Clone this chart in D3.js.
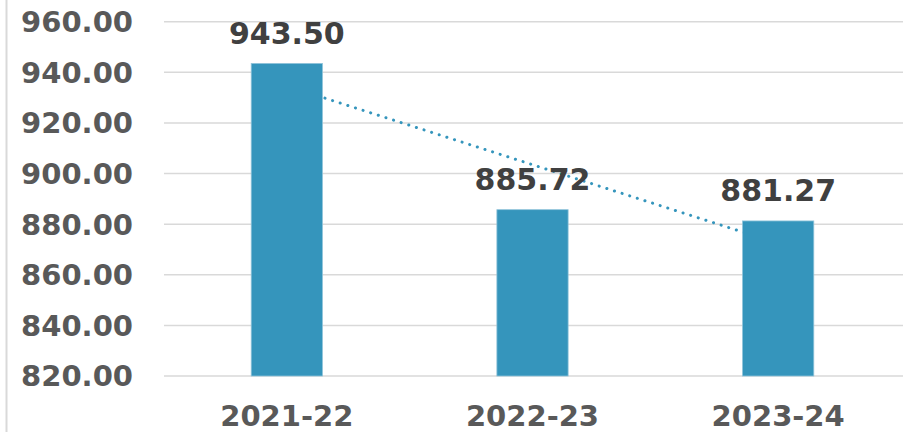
<!DOCTYPE html>
<head>
	<meta charset="utf-8">
	<title>Chart</title>
	<script src="https://d3js.org/d3.v7.min.js"></script>
	<style>
		body { margin: 0; background: #fff; }
		.grid line { stroke: #d9d9d9; stroke-width: 1.5px; }
		.tick-label { font-family: "DejaVu Sans", Verdana, sans-serif; font-weight: bold; font-size: 29px; fill: #595959; }
		.value-label { font-family: "DejaVu Sans", Verdana, sans-serif; font-weight: bold; font-size: 30px; fill: #404040; }
	</style>
</head>
<body>
	<div id="chart"></div>
	<script>
		var years = ["2021-22", "2022-23", "2023-24"];
		var values = [943.50, 885.72, 881.27];
		var yTicks = [820, 840, 860, 880, 900, 920, 940, 960];

		var width = 903, height = 432;
		var plotLeft = 164, plotRight = 901, plotTop = 21.7, plotBottom = 376;

		var svg = d3.select("#chart").append("svg")
			.attr("width", width)
			.attr("height", height);

		// left frame line
		svg.append("line")
			.attr("x1", 6.5).attr("x2", 6.5)
			.attr("y1", 0).attr("y2", height)
			.attr("stroke", "#d9d9d9")
			.attr("stroke-width", 2);

		var x = d3.scaleBand()
			.domain(years)
			.range([plotLeft, plotRight])
			.paddingInner(0.71)
			.paddingOuter(0.355);

		var y = d3.scaleLinear()
			.domain([820, 960])
			.range([plotBottom, plotTop]);

		// gridlines
		svg.append("g")
			.attr("class", "grid")
			.selectAll("line")
			.data(yTicks)
			.enter().append("line")
			.attr("x1", plotLeft).attr("x2", width)
			.attr("y1", function(d) { return y(d); })
			.attr("y2", function(d) { return y(d); });

		// y tick labels
		svg.append("g")
			.selectAll("text")
			.data(yTicks)
			.enter().append("text")
			.attr("class", "tick-label")
			.attr("x", 133)
			.attr("y", function(d) { return y(d); })
			.attr("dy", "0.36em")
			.attr("text-anchor", "end")
			.text(function(d) { return d3.format(".2f")(d); });

		// x labels
		svg.append("g")
			.selectAll("text")
			.data(years)
			.enter().append("text")
			.attr("class", "tick-label")
			.attr("x", function(d) { return x(d) + x.bandwidth() / 2; })
			.attr("y", 426)
			.attr("text-anchor", "middle")
			.text(function(d) { return d; });

		// linear trendline (least squares)
		var xs = values.map(function(d, i) { return i + 1; });
		var mx = d3.mean(xs), my = d3.mean(values);
		var slope = d3.sum(xs, function(xi, i) { return (xi - mx) * (values[i] - my); }) /
			d3.sum(xs, function(xi) { return (xi - mx) * (xi - mx); });
		var icpt = my - slope * mx;
		var trend = years.map(function(d, i) { return { year: d, v: icpt + slope * (i + 1) }; });

		svg.append("path")
			.datum(trend)
			.attr("fill", "none")
			.attr("stroke", "#3595bc")
			.attr("stroke-width", 3)
			.attr("stroke-linecap", "round")
			.attr("stroke-dasharray", "0.1 7.9")
			.attr("d", d3.line()
				.x(function(d) { return x(d.year) + x.bandwidth() / 2; })
				.y(function(d) { return y(d.v); }));

		// bars
		svg.append("g")
			.selectAll("rect")
			.data(values)
			.enter().append("rect")
			.attr("x", function(d, i) { return x(years[i]); })
			.attr("y", function(d) { return y(d); })
			.attr("width", x.bandwidth())
			.attr("height", function(d) { return y(820) - y(d); })
			.attr("fill", "#3595bc")
			.attr("stroke", "#8fc3da")
			.attr("stroke-width", 0.8);

		// value labels
		svg.append("g")
			.selectAll("text")
			.data(values)
			.enter().append("text")
			.attr("class", "value-label")
			.attr("x", function(d, i) { return x(years[i]) + x.bandwidth() / 2; })
			.attr("y", function(d) { return y(d) - 19.5; })
			.attr("text-anchor", "middle")
			.text(function(d) { return d3.format(".2f")(d); });
	</script>
</body>
